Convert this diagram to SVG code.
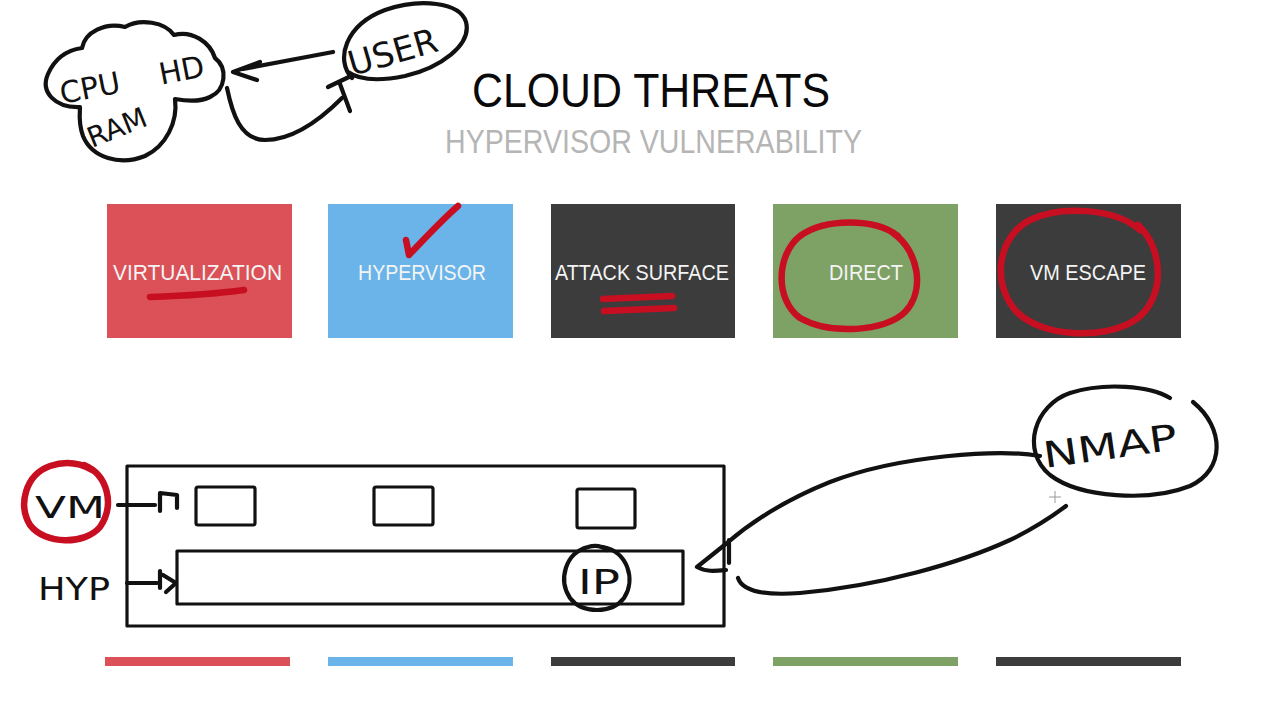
<svg xmlns="http://www.w3.org/2000/svg" width="1280" height="720" viewBox="0 0 1280 720">
<style>
.ink{fill:none;stroke:#111;stroke-width:4.2;stroke-linecap:round;stroke-linejoin:round}
.frame{fill:none;stroke:#111;stroke-width:3.2;stroke-linejoin:round}
.red{fill:none;stroke:#c80f22;stroke-width:6.5;stroke-linecap:round;stroke-linejoin:round}
.hand{font-family:"DejaVu Sans",sans-serif;fill:#111}
.title{font-family:"Liberation Sans",Arial,sans-serif;fill:#0a0a0a}
.sub{font-family:"Liberation Sans",Arial,sans-serif;fill:#b5b5b5}
.lbl{font-family:"Liberation Sans",Arial,sans-serif;fill:#f4f4f4;font-size:22px}
</style>
<rect width="1280" height="720" fill="#ffffff"/>

<g id="title">
<text class="title" x="472" y="107" font-size="48" textLength="358" lengthAdjust="spacingAndGlyphs">CLOUD THREATS</text>
<text class="sub" x="445" y="153" font-size="33" textLength="417" lengthAdjust="spacingAndGlyphs">HYPERVISOR VULNERABILITY</text>
</g>

<g id="box-virtualization">
<rect x="107" y="204" width="185" height="134" fill="#db5157"/>
<text class="lbl" x="113" y="280" textLength="169" lengthAdjust="spacingAndGlyphs">VIRTUALIZATION</text>
<path class="red" d="M150,297 C180,296 215,294 244,290"/>
</g>
<g id="box-hypervisor">
<rect x="328" y="204" width="185" height="134" fill="#6bb4e9"/>
<text class="lbl" x="358" y="280" textLength="128" lengthAdjust="spacingAndGlyphs">HYPERVISOR</text>
<path class="red" d="M406,240 L409,255 C425,238 442,220 458,206"/>
</g>
<g id="box-attack-surface">
<rect x="551" y="204" width="184" height="134" fill="#3c3c3c"/>
<text class="lbl" x="555" y="280" textLength="174" lengthAdjust="spacingAndGlyphs">ATTACK SURFACE</text>
<path class="red" stroke-width="7.5" d="M603,299 L672,296 M604,311 L674,308"/>
</g>
<g id="box-direct">
<rect x="773" y="204" width="185" height="134" fill="#7ea166"/>
<text class="lbl" x="829" y="280" textLength="74" lengthAdjust="spacingAndGlyphs">DIRECT</text>
<path class="red" d="M893,233 C918,250 926,290 905,312 C885,332 830,335 800,318 C775,300 776,255 800,236 C825,218 875,218 898,236"/>
</g>
<g id="box-vm-escape">
<rect x="996" y="204" width="185" height="134" fill="#3c3c3c"/>
<text class="lbl" x="1030" y="280" textLength="116" lengthAdjust="spacingAndGlyphs">VM ESCAPE</text>
<path class="red" d="M1138,225 C1165,250 1165,300 1135,320 C1105,340 1040,338 1015,310 C990,280 1000,235 1030,220 C1060,205 1115,208 1140,230"/>
</g>

<g id="bars">
<rect x="105" y="657" width="185" height="9" fill="#db5157"/>
<rect x="328" y="657" width="185" height="9" fill="#6bb4e9"/>
<rect x="551" y="657" width="184" height="9" fill="#3c3c3c"/>
<rect x="773" y="657" width="185" height="9" fill="#7ea166"/>
<rect x="996" y="657" width="185" height="9" fill="#3c3c3c"/>
</g>

<g id="node-cloud">
<path class="ink" d="M80,107 C55,108 40,92 48,74 C55,58 68,50 82,48 C85,32 105,22 125,27 C140,18 165,22 174,35 C192,30 210,42 215,58 C228,68 226,90 210,97 C200,102 186,101 175,99 C178,122 166,146 145,156 C120,166 92,158 83,136 C78,122 80,112 80,108"/>
<text class="hand" x="62" y="104" font-size="30" transform="rotate(-11 62 104)">CPU<tspan x="163">HD</tspan></text>
<text class="hand" x="92" y="148" font-size="28" transform="rotate(-22 92 148)">RAM</text>
</g>

<g id="node-user">
<path class="ink" d="M352,78 C335,60 345,25 385,10 C420,-2 460,2 466,22 C472,45 440,68 405,76 C385,80 362,82 348,72"/>
<text class="hand" x="352" y="76" font-size="34" transform="rotate(-16 352 76)">USER</text>
</g>

<g id="vm-diagram">
<rect class="frame" x="127" y="466" width="597" height="160"/>
<rect class="frame" x="196" y="487" width="59" height="38" rx="2"/>
<rect class="frame" x="374" y="487" width="59" height="38" rx="2"/>
<rect class="frame" x="577" y="489" width="58" height="39" rx="2"/>
<rect class="frame" x="177" y="551" width="506" height="53"/>
</g>

<g id="node-vm">
<path class="red" d="M84,465 C108,475 115,505 100,527 C85,545 45,545 30,525 C18,505 25,475 50,466 C65,461 80,463 92,470"/>
<text class="hand" x="35" y="518" font-size="30" textLength="70" lengthAdjust="spacingAndGlyphs">VM</text>
</g>
<g id="node-hyp">
<text class="hand" x="38" y="600" font-size="32" textLength="72" lengthAdjust="spacingAndGlyphs">HYP</text>
</g>
<g id="node-ip">
<path class="ink" d="M603,547 C628,552 636,580 624,598 C612,614 582,614 570,598 C558,580 565,553 588,547 C595,545 602,546 607,550"/>
<text class="hand" x="578" y="594" font-size="34" textLength="42" lengthAdjust="spacingAndGlyphs">IP</text>
</g>
<g id="node-nmap">
<path class="ink" d="M1193,402 C1225,428 1225,470 1190,486 C1150,502 1080,498 1050,475 C1020,450 1035,405 1070,393 C1105,382 1150,386 1170,398"/>
<text class="hand" x="1045" y="468" font-size="36" transform="rotate(-8 1045 468)" textLength="135" lengthAdjust="spacingAndGlyphs">NMAP</text>
</g>

<g id="connectors">
<path class="ink" d="M333,52 L243,69"/>
<path class="ink" d="M260,62 L233,72 L257,80"/>
<path class="ink" d="M227,88 C232,112 240,140 265,140 C295,140 322,118 342,98"/>
<path class="ink" d="M328,87 L351,76 M340,84 L350,111"/>
<path class="ink" d="M118,505 L155,505 M160,511 L160,493 L177,495 L177,508"/>
<path class="ink" d="M127,583 L157,583 M160,571 L160,588 M163,575 L176,583 L166,592"/>
<path class="ink" d="M1040,456 C1000,449 900,455 830,482 C780,502 748,525 727,543 L697,567 C706,572 715,571 726,570 M729,540 L729,563"/>
<path class="ink" d="M738,578 C742,590 760,596 800,593 C880,586 960,563 1010,540 C1035,528 1050,518 1066,506"/>
</g>

<g id="cursor" stroke="#9a9a9a" stroke-width="1">
<path d="M1049,497 L1061,497 M1055,491 L1055,503"/>
</g>
</svg>
